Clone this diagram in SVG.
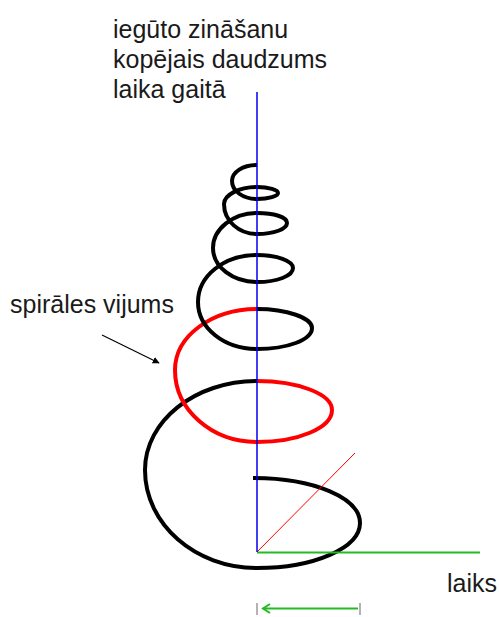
<svg xmlns="http://www.w3.org/2000/svg" width="499" height="617" viewBox="0 0 499 617">
<style>
  .lbl { font-family: "Liberation Sans", Arial, sans-serif; font-size: 25px; fill: #1a1a1a; }
  .coil { fill: none; stroke-width: 4; stroke-linecap: butt; stroke-linejoin: round; }
  .blk { stroke: #000000; }
  .red { stroke: #ff0000; }
</style>
<defs>
  <marker id="ah" viewBox="0 0 10 10" refX="9" refY="5" markerWidth="7" markerHeight="7" orient="auto" markerUnits="userSpaceOnUse">
    <path d="M0,0 L10,5 L0,10 z" fill="#000"/>
  </marker>
</defs>
<rect width="499" height="617" fill="#ffffff"/>

<g id="spiral">
  <path class="coil blk" d="M253,478 C314,478 360,498 360,523 C360,548 314,568 257,568 C195,568 145,524 145,470 C145,421 195,381 257,381"/>
  <path class="coil red" d="M257,381 C298,381 332,394 332,410 C332,428 298,442 257,442 C212,442 175,410 175,370 C175,336 212,309 257,309"/>
  <path class="coil blk" d="M257,309 C287,309 312,318 312,328 C312,340 287,349 257,349 C224,349 198,328 198,302 C198,276 224,255 257,255 C277,255 293,261 293,268 C293,276 277,282 257,282 C233,282 213,267 213,248 C213,229 233,213 257,213 C274,213 287,217 287,223 C287,229 274,234 257,234 C239,234 224,221 224,204 C224,195 239,187 257,187 C269,187 278,190 278,193 C278,196 269,199 257,199 C243,199 232,191 232,181 C232,172 243,165 257,165"/>
</g>

<g id="connectors">
  <line id="time-axis" x1="257" y1="552.5" x2="480" y2="552.5" stroke="#22bb22" stroke-width="2"/>
  <line id="diagonal" x1="257" y1="552" x2="355" y2="453" stroke="#ff0000" stroke-width="1"/>
  <line id="knowledge-axis" x1="257" y1="92" x2="257" y2="552" stroke="#0000ee" stroke-width="1.5"/>
  <line id="label-arrow" x1="102" y1="335" x2="159" y2="363" stroke="#000" stroke-width="1.2" marker-end="url(#ah)"/>
  <g id="interval-arrow">
    <line x1="257" y1="603" x2="257" y2="615" stroke="#666" stroke-width="1"/>
    <line x1="360" y1="603" x2="360" y2="615" stroke="#666" stroke-width="1"/>
    <line x1="263" y1="608.5" x2="358" y2="608.5" stroke="#22bb22" stroke-width="2"/>
    <polyline points="270,604 263,608.5 270,613" fill="none" stroke="#22bb22" stroke-width="2"/>
  </g>
</g>

<g id="label-knowledge">
  <text class="lbl" x="113" y="37.5">iegūto zināšanu</text>
  <text class="lbl" x="113" y="67.5">kopējais daudzums</text>
  <text class="lbl" x="113" y="97.5">laika gaitā</text>
</g>
<g id="label-turn">
  <text class="lbl" x="10" y="313">spirāles vijums</text>
</g>
<g id="label-time">
  <text class="lbl" x="447" y="592">laiks</text>
</g>
</svg>
